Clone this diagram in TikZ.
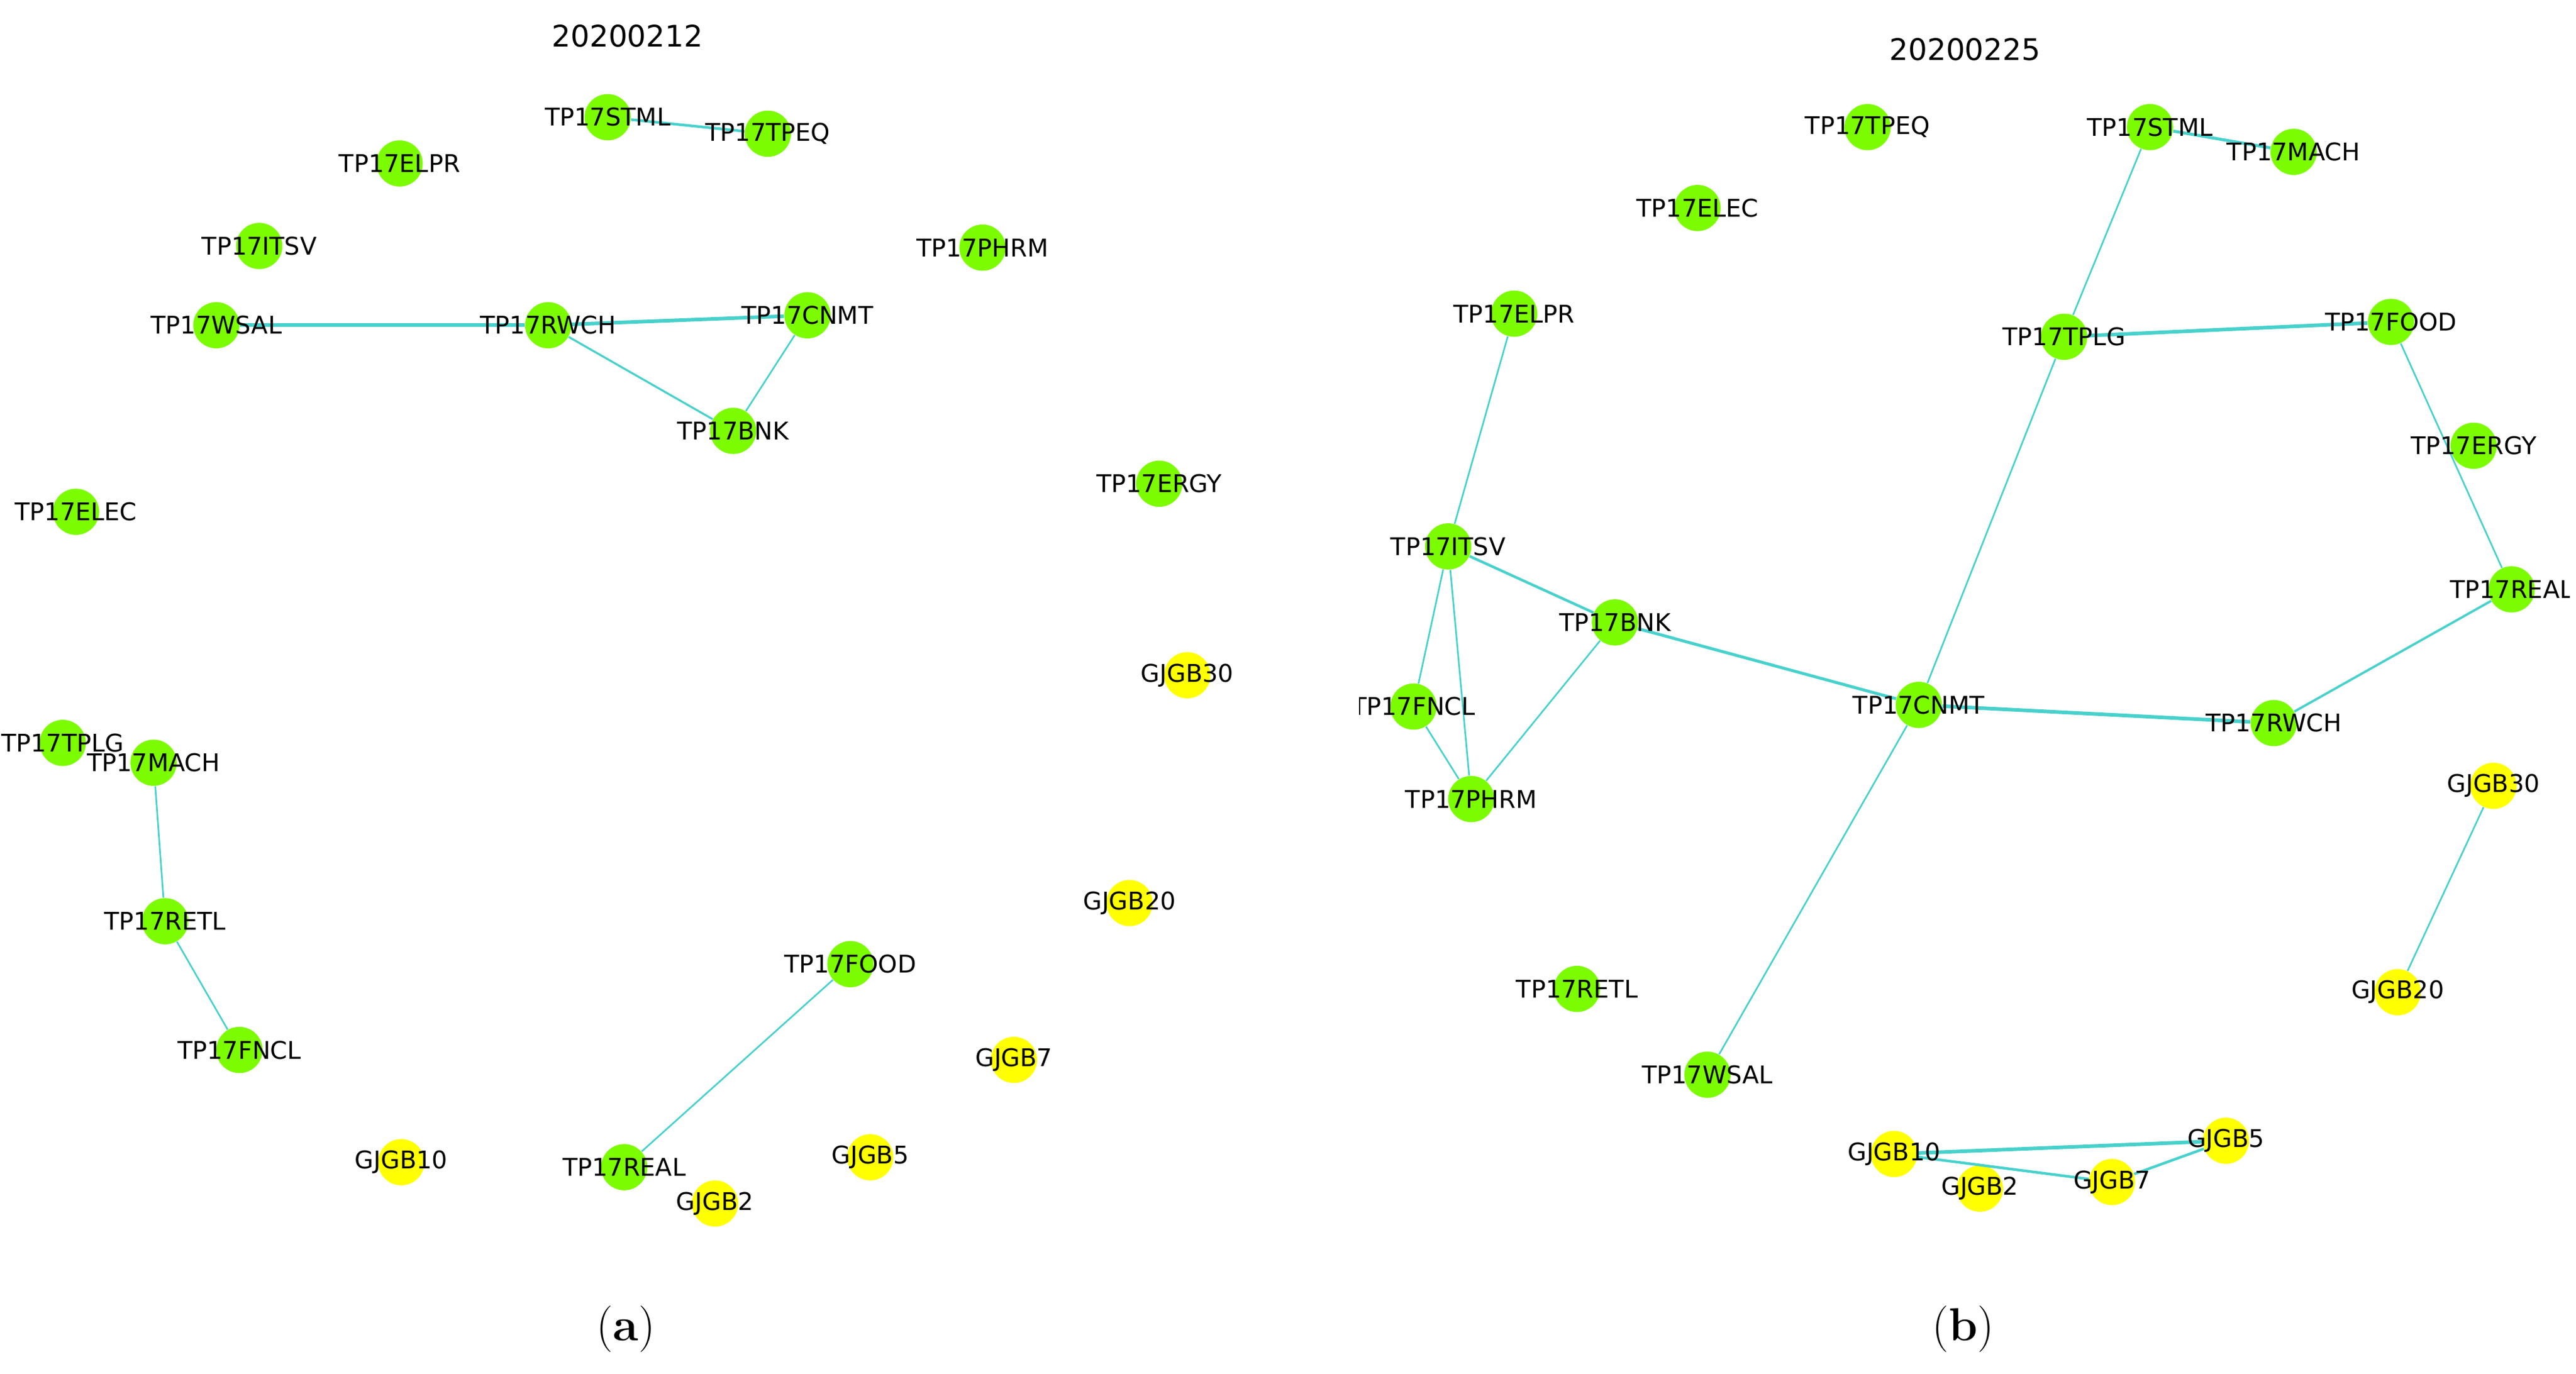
\documentclass[tikz,border=0pt]{standalone}
\usepackage{fontspec}
\newfontfamily\netfont{DejaVu Sans}
\definecolor{lawn}{RGB}{124,252,0}
\definecolor{gold}{RGB}{255,255,0}
\definecolor{turq}{RGB}{72,209,204}

% node lists: name/x/y/colour/label
\def\netA{a-stml/368/71/lawn/TP17STML, a-tpeq/465/81/lawn/TP17TPEQ,
  a-elpr/242/99/lawn/TP17ELPR, a-itsv/157/149/lawn/TP17ITSV,
  a-phrm/595/150/lawn/TP17PHRM, a-wsal/131/197/lawn/TP17WSAL,
  a-rwch/332/197/lawn/TP17RWCH, a-cnmt/489/191/lawn/TP17CNMT,
  a-bnk/444/261/lawn/TP17BNK, a-ergy/702/293/lawn/TP17ERGY,
  a-elec/46/310/lawn/TP17ELEC, a-gb30/719/409/gold/GJGB30,
  a-tplg/38/450/lawn/TP17TPLG, a-mach/93/462/lawn/TP17MACH,
  a-retl/100/558/lawn/TP17RETL, a-food/515/584/lawn/TP17FOOD,
  a-gb20/684/547/gold/GJGB20, a-fncl/145/636/lawn/TP17FNCL,
  a-gb7/614/642/gold/GJGB7, a-gb10/243/704/gold/GJGB10,
  a-real/378/707/lawn/TP17REAL, a-gb5/527/701/gold/GJGB5,
  a-gb2/433/729/gold/GJGB2}
\def\netB{b-tpeq/1131/77/lawn/TP17TPEQ, b-stml/1302/77/lawn/TP17STML,
  b-mach/1389/92/lawn/TP17MACH, b-elec/1028/126/lawn/TP17ELEC,
  b-elpr/917/190/lawn/TP17ELPR, b-tplg/1250/204/lawn/TP17TPLG,
  b-food/1448/195/lawn/TP17FOOD, b-ergy/1498/270/lawn/TP17ERGY,
  b-itsv/877/331/lawn/TP17ITSV, b-real/1521/357/lawn/TP17REAL,
  b-bnk/978/377/lawn/TP17BNK, b-fncl/856/428/lawn/TP17FNCL,
  b-cnmt/1162/427/lawn/TP17CNMT, b-rwch/1377/438/lawn/TP17RWCH,
  b-phrm/891/484/lawn/TP17PHRM, b-gb30/1510/476/gold/GJGB30,
  b-retl/955/599/lawn/TP17RETL, b-gb20/1452/601/gold/GJGB20,
  b-wsal/1034/651/lawn/TP17WSAL, b-gb10/1147/699/gold/GJGB10,
  b-gb5/1348/691/gold/GJGB5, b-gb2/1199/720/gold/GJGB2,
  b-gb7/1279/716/gold/GJGB7}

\begin{document}
\begin{tikzpicture}[x=0.25mm,y=-0.25mm,
  vert/.style={circle,inner sep=0pt,minimum size=7mm},
  link/.style={draw=turq},
  lbl/.style={font=\netfont\fontsize{10.5}{12}\selectfont,inner sep=0pt},
  ttl/.style={font=\netfont\fontsize{12.8}{15}\selectfont,inner sep=0pt},
  subcap/.style={font=\fontsize{20}{24}\selectfont,inner sep=0pt}]
\useasboundingbox (0,0) rectangle (1560,832);

\node[ttl] (ttl-a) at (380,22) {20200212};
\node[ttl] (ttl-b) at (1190,30) {20200225};

\foreach \nm/\px/\py/\col/\lab in \netA
  \node[vert,fill=\col] (\nm) at (\px,\py) {};
\foreach \nm/\px/\py/\col/\lab in \netB
  \node[vert,fill=\col] (\nm) at (\px,\py) {};

% edges, width in mm
\foreach \u/\v/\w in {a-stml/a-tpeq/0.4, a-wsal/a-rwch/0.55, a-rwch/a-cnmt/0.55,
    a-rwch/a-bnk/0.3, a-cnmt/a-bnk/0.25, a-mach/a-retl/0.25,
    a-retl/a-fncl/0.25, a-food/a-real/0.25}
  \draw[link,line width=\w mm] (\u) -- (\v);
\foreach \u/\v/\w in {b-stml/b-mach/0.45, b-stml/b-tplg/0.25, b-tplg/b-food/0.55,
    b-tplg/b-cnmt/0.25, b-food/b-real/0.25, b-real/b-rwch/0.35,
    b-cnmt/b-rwch/0.55, b-bnk/b-cnmt/0.45, b-cnmt/b-wsal/0.25,
    b-elpr/b-itsv/0.25, b-itsv/b-bnk/0.4, b-itsv/b-fncl/0.25,
    b-itsv/b-phrm/0.25, b-fncl/b-phrm/0.25, b-bnk/b-phrm/0.25,
    b-gb30/b-gb20/0.25, b-gb10/b-gb5/0.55, b-gb10/b-gb7/0.4,
    b-gb7/b-gb5/0.4}
  \draw[link,line width=\w mm] (\u) -- (\v);

\foreach \nm/\px/\py/\col/\lab in \netA
  \node[lbl] (\nm-t) at (\nm) {\lab};
\begin{scope}
\clip (823,0) rectangle (1556,832);
\foreach \nm/\px/\py/\col/\lab in \netB
  \node[lbl] (\nm-t) at (\nm) {\lab};
\end{scope}

\node[subcap] (cap-a) at (379,805) {(\textbf{a})};
\node[subcap] (cap-b) at (1189,805) {(\textbf{b})};
\end{tikzpicture}
\end{document}
